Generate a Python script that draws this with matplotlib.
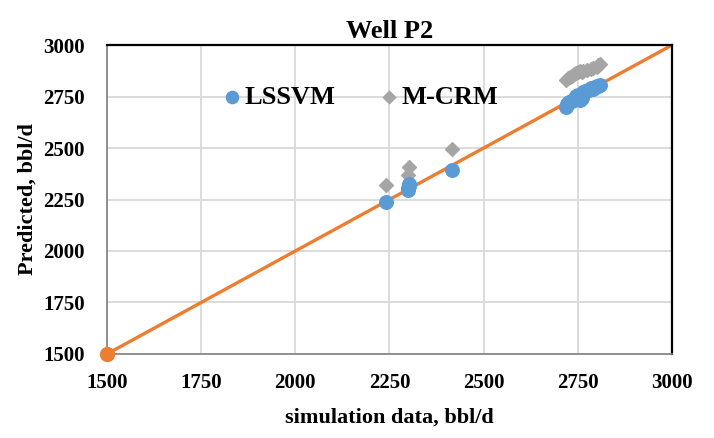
import matplotlib.pyplot as plt

plt.rcParams['font.family'] = ['Liberation Serif', 'DejaVu Serif']
plt.rcParams['font.weight'] = 'bold'

# LSSVM predictions (simulation data, predicted)
lssvm_x = [2240, 2298, 2300, 2302, 2303, 2415,
           2720, 2722, 2725, 2728, 2735, 2740, 2745, 2750, 2752, 2755, 2760,
           2765, 2770, 2780, 2785, 2790, 2795, 2800, 2805, 2810]
lssvm_y = [2240, 2295, 2305, 2318, 2325, 2395,
           2700, 2712, 2720, 2725, 2730, 2740, 2755, 2760, 2745, 2735, 2745,
           2770, 2775, 2780, 2790, 2785, 2795, 2800, 2800, 2805]

# M-CRM predictions
mcrm_x = [2240, 2300, 2302, 2415,
          2720, 2725, 2730, 2735, 2740, 2745, 2750, 2755, 2760, 2765,
          2775, 2785, 2790, 2800, 2805, 2810]
mcrm_y = [2320, 2370, 2410, 2495,
          2830, 2840, 2845, 2850, 2860, 2865, 2870, 2875, 2870, 2875,
          2880, 2885, 2890, 2895, 2905, 2910]

# 1:1 reference line
line_x = [1500, 3000]
line_y = [1500, 3000]

ticks = [1500, 1750, 2000, 2250, 2500, 2750, 3000]

fig = plt.figure(figsize=(7.14, 4.38), dpi=100)
ax = fig.add_axes([0.150, 0.192, 0.791, 0.705])

ax.plot(line_x, line_y, color='#ED7D31', linewidth=2.4, zorder=2)
ax.plot(line_x[:1], line_y[:1], 'o', color='#ED7D31', markersize=10,
        clip_on=False, zorder=5)
ax.scatter(lssvm_x, lssvm_y, s=95, color='#5B9BD5', marker='o',
           label='LSSVM', zorder=4, clip_on=False)
ax.scatter(mcrm_x, mcrm_y, s=50, color='#A5A5A5', marker='D',
           label='M-CRM', zorder=3, clip_on=False)

ax.set_xlim(1500, 3000)
ax.set_ylim(1500, 3000)
ax.set_xticks(ticks)
ax.set_yticks(ticks)
ax.tick_params(length=0, labelsize=15)
ax.tick_params(axis='x', pad=14)
ax.tick_params(axis='y', pad=16)
ax.grid(True, color='#D9D9D9', linewidth=1.3)
ax.set_axisbelow(True)

for side in ['top', 'right']:
    ax.spines[side].set_color('black')
    ax.spines[side].set_linewidth(1.6)
for side in ['left', 'bottom']:
    ax.spines[side].set_color('#808080')
    ax.spines[side].set_linewidth(1.2)

ax.set_title('Well P2', fontsize=19, fontweight='bold', pad=5)
ax.set_xlabel('simulation data, bbl/d', fontsize=16, fontweight='bold', labelpad=10)
ax.set_ylabel('Predicted, bbl/d', fontsize=16, fontweight='bold', labelpad=4)

ax.legend(loc='upper left', bbox_to_anchor=(0.155, 0.945), ncol=2, frameon=False,
          fontsize=19, handletextpad=0.0, columnspacing=1.5,
          markerscale=0.9, handlelength=1.0)

plt.savefig('out.png', dpi=100)
